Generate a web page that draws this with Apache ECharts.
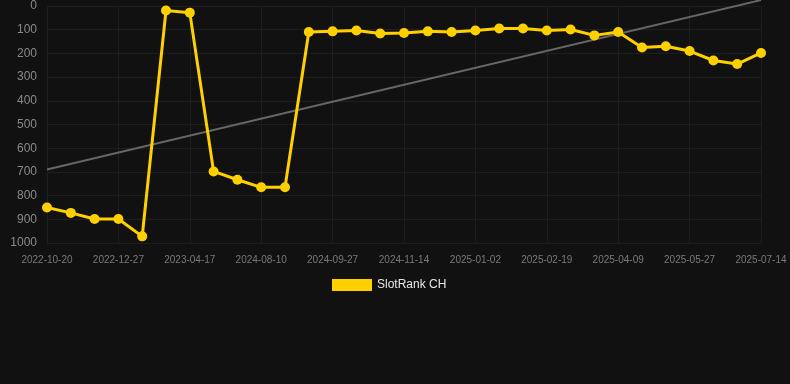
<!DOCTYPE html>
<html>
<head>
<meta charset="utf-8">
<script src="https://cdn.jsdelivr.net/npm/echarts@6/dist/echarts.min.js"></script>
<style>
  html, body { margin: 0; padding: 0; background: #111111; }
  #chart { width: 790px; height: 384px; }
</style>
</head>
<body>
<div id="chart"></div>
<script>
// dates (x axis categories)
const dates = [
  '2022-10-20', '2022-11-11', '2022-12-05', '2022-12-27', '2023-01-30',
  '2023-03-10', '2023-04-17', '2024-06-15', '2024-07-20', '2024-08-10',
  '2024-08-26', '2024-09-11', '2024-09-27', '2024-10-13', '2024-10-29',
  '2024-11-14', '2024-11-30', '2024-12-17', '2025-01-02', '2025-01-18',
  '2025-02-03', '2025-02-19', '2025-03-07', '2025-03-24', '2025-04-09',
  '2025-04-25', '2025-05-11', '2025-05-27', '2025-06-12', '2025-06-28',
  '2025-07-14'
];

// rank values
const ranks = [
  850, 873, 899, 899, 972,
  19, 28, 698, 733, 765,
  765, 110, 107, 103, 116,
  114, 107, 110, 103, 95,
  95, 103, 99, 124, 110,
  175, 170, 190, 230, 245,
  198
];

// trend line end points
const trendStart = 690;
const trendEnd = -25;

const chart = echarts.init(document.getElementById('chart'));

chart.setOption({
  backgroundColor: '#111111',
  animation: false,
  grid: { left: 47, right: 29, top: 6, bottom: 141 },
  legend: {
    bottom: 88,
    left: 327,
    itemWidth: 40,
    itemHeight: 12,
    itemGap: 10,
    icon: 'rect',
    data: ['SlotRank CH'],
    textStyle: { color: '#e6e6e6', fontSize: 12, fontFamily: 'Arial, Liberation Sans, sans-serif' }
  },
  xAxis: {
    type: 'category',
    data: dates,
    boundaryGap: false,
    axisLine: { show: false },
    axisTick: { show: false },
    axisLabel: {
      interval: 2,
      color: '#7a7a7a',
      fontSize: 10,
      margin: 12,
      fontFamily: 'Arial, Liberation Sans, sans-serif'
    },
    splitLine: { show: true, interval: 2, lineStyle: { color: '#1e1e1e', width: 1 } }
  },
  yAxis: {
    type: 'value',
    inverse: true,
    min: 0,
    max: 1000,
    interval: 100,
    axisLine: { show: false },
    axisTick: { show: false },
    axisLabel: {
      color: '#8a8a8a',
      fontSize: 12,
      margin: 10,
      formatter: (v) => String(v),
      fontFamily: 'Arial, Liberation Sans, sans-serif'
    },
    splitLine: { lineStyle: { color: '#1e1e1e', width: 1 } }
  },
  series: [
    {
      name: 'SlotRank CH',
      type: 'line',
      data: ranks,
      symbol: 'circle',
      symbolSize: 10,
      itemStyle: { color: '#ffd000' },
      lineStyle: { color: '#ffd000', width: 3 },
      z: 3
    },
    {
      name: 'trend',
      type: 'line',
      data: [[0, trendStart], [dates.length - 1, trendEnd]],
      symbol: 'none',
      clip: false,
      lineStyle: { color: '#666666', width: 2 },
      z: 2
    }
  ]
});

window.addEventListener('resize', chart.resize);
</script>
</body>
</html>
